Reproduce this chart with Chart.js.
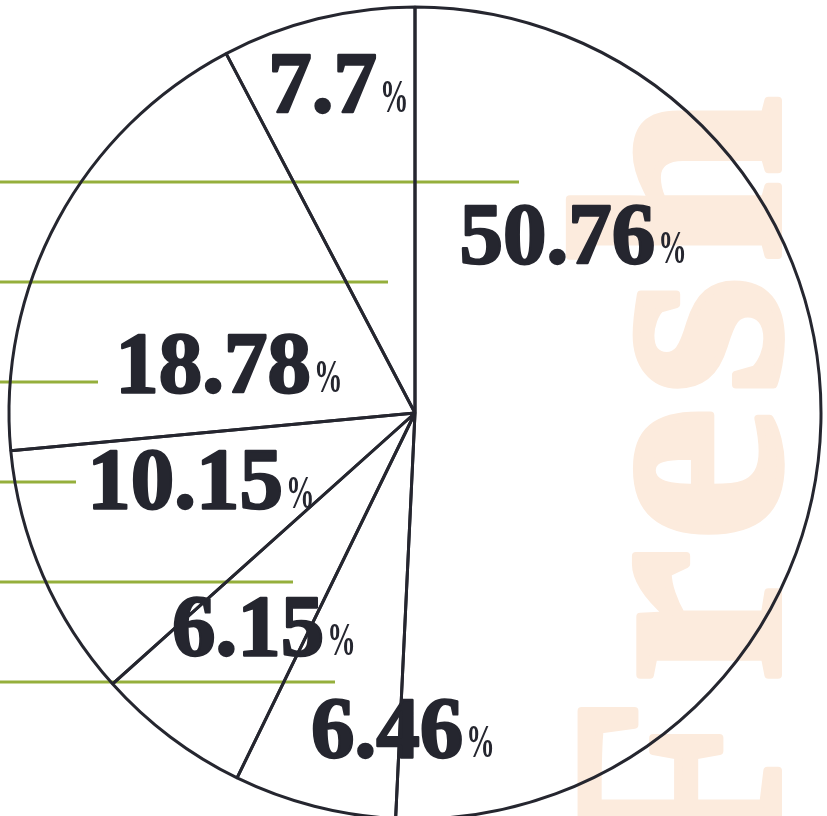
<!DOCTYPE html>
<html>
<head>
<meta charset="utf-8">
<script src="https://cdn.jsdelivr.net/npm/chart.js@4/dist/chart.umd.min.js"></script>
<style>
  html, body { margin: 0; padding: 0; background: #ffffff; }
  #wrap { width: 827px; height: 816px; position: relative; overflow: hidden; }
  canvas { display: block; }
</style>
</head>
<body>
<div id="wrap"><canvas id="pie" width="827" height="816"></canvas></div>
<script>
// Shares per segment, clockwise from 12 o'clock
const categories = ['Segment A', 'Segment B', 'Segment C', 'Segment D', 'Segment E', 'Segment F'];
const shares = [50.76, 6.46, 6.15, 10.15, 18.78, 7.7];

// Where each value label sits: angle (deg, clockwise from top) and fraction of the radius
const labelAngle = [46.5, 182.0, 212.0, 246.1, 276.4, 345.7];
const labelRadius = [0.537, 0.848, 0.702, 0.577, 0.461, 0.765];

// Decorative olive rules on the left edge: row and right end, in px
const ruleRows = [182, 282, 382, 482, 582, 682];
const ruleEnds = [519, 388, 98, 76, 293, 335];

const INK = '#25262f';
const OLIVE = '#95af3c';
const PEACH = '#fcebdd';
const SERIF = '"Liberation Serif", "DejaVu Serif", serif';

const backdrop = {
  id: 'backdrop',
  beforeDatasetsDraw(chart) {
    const ctx = chart.ctx;
    // big vertical word behind the pie, stroked to fatten the strokes
    ctx.save();
    ctx.fillStyle = PEACH;
    ctx.strokeStyle = PEACH;
    ctx.lineWidth = 8;
    ctx.lineJoin = 'round';
    ctx.font = 'bold 300px ' + SERIF;
    ctx.textBaseline = 'alphabetic';
    ctx.textAlign = 'left';
    if ('letterSpacing' in ctx) ctx.letterSpacing = '14px';
    ctx.translate(778, 880);
    ctx.rotate(-Math.PI / 2);
    ctx.fillText('Fresh', 0, 0);
    ctx.strokeText('Fresh', 0, 0);
    ctx.restore();

    // olive rules
    ctx.save();
    ctx.strokeStyle = OLIVE;
    ctx.lineWidth = 2.8;
    ruleRows.forEach((y, i) => {
      ctx.beginPath();
      ctx.moveTo(0, y);
      ctx.lineTo(ruleEnds[i], y);
      ctx.stroke();
    });
    ctx.restore();
  },
  afterDatasetsDraw(chart) {
    const ctx = chart.ctx;
    const arcs = chart.getDatasetMeta(0).data;
    if (!arcs.length) return;
    const cx = arcs[0].x, cy = arcs[0].y, R = arcs[0].outerRadius;
    const numFont = 'bold 87px ' + SERIF;
    const pctFont = 'bold 46px ' + SERIF;
    const pctSqueeze = 0.62;
    ctx.save();
    ctx.fillStyle = INK;
    ctx.strokeStyle = INK;
    ctx.lineJoin = 'round';
    ctx.textBaseline = 'alphabetic';
    ctx.textAlign = 'left';
    shares.forEach((v, i) => {
      const a = labelAngle[i] * Math.PI / 180;
      const r = labelRadius[i] * R;
      const x = cx + r * Math.sin(a);
      const y = cy - r * Math.cos(a);
      const num = String(v);
      ctx.font = numFont;
      const wNum = ctx.measureText(num).width;
      ctx.font = pctFont;
      const wPct = ctx.measureText('%').width * pctSqueeze;
      const left = x - (wNum + 3 + wPct) / 2;
      ctx.font = numFont;
      ctx.lineWidth = 2.4;
      ctx.fillText(num, left, y);
      ctx.strokeText(num, left, y);
      ctx.save();
      ctx.translate(left + wNum + 3, y);
      ctx.scale(pctSqueeze, 1);
      ctx.font = pctFont;
      ctx.fillText('%', 0, 0);
      ctx.restore();
    });
    ctx.restore();
  }
};

new Chart(document.getElementById('pie'), {
  type: 'pie',
  data: {
    labels: categories,
    datasets: [{
      data: shares,
      backgroundColor: 'rgba(255,255,255,0)',
      borderColor: INK,
      borderWidth: 3,
      clip: false
    }]
  },
  options: {
    responsive: false,
    animation: false,
    events: [],
    radius: 406,
    layout: { padding: { left: 3, top: 10, right: 0, bottom: 0 } },
    plugins: {
      legend: { display: false },
      tooltip: { enabled: false }
    }
  },
  plugins: [backdrop]
});
</script>
</body>
</html>
